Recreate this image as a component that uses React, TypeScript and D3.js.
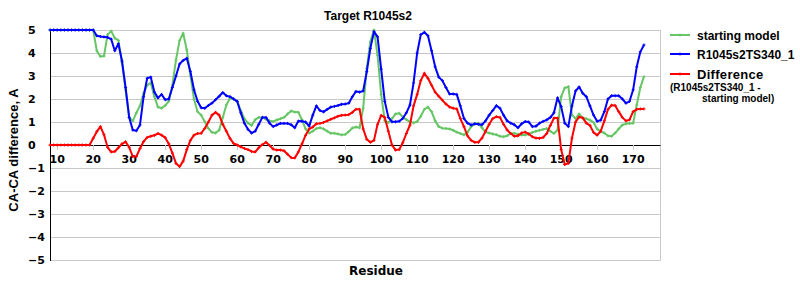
import React from "react";
import * as d3 from "d3";

const residueStart = 8;
const startingModel = [
  5, 5, 5, 5, 5, 5, 5, 5, 5, 5, 5, 5, 5,
  4.1, 3.85, 3.87, 4.8, 4.95, 4.65, 4.55, 3.6, 2.4, 1.2,
  1.05, 1.4, 1.7, 2.25, 2.6, 2.7, 2.1, 1.65, 1.6, 1.72,
  1.9, 2.6, 3.7, 4.55, 4.86, 4.13, 3.04, 2.0, 1.45, 1.3,
  1.01, 0.72, 0.55, 0.52, 0.65, 1.2, 1.75, 2.02, 2.02, 1.9,
  1.5, 1.15, 0.95, 0.85, 1.1, 1.2, 1.2, 1.12, 1.05, 1.02,
  1.09, 1.14, 1.2, 1.35, 1.48, 1.43, 1.42, 1.1, 0.7, 0.52,
  0.6, 0.72, 0.75, 0.7, 0.6, 0.51, 0.51, 0.48, 0.44, 0.46,
  0.58, 0.74, 0.78, 0.75, 1.6, 3.33, 4.5, 5.0, 3.9, 2.2,
  1.05, 0.97, 1.15, 1.35, 1.38, 1.22, 1.1, 1.01, 0.96, 1.02,
  1.25, 1.55, 1.65, 1.45, 1.05, 0.8, 0.73, 0.72, 0.7, 0.64,
  0.56, 0.5, 0.44, 0.55, 0.8, 0.92, 0.94, 0.75, 0.56, 0.52,
  0.48, 0.45, 0.38, 0.36, 0.4, 0.5, 0.51, 0.47, 0.43, 0.43,
  0.48, 0.55, 0.6, 0.64, 0.68, 0.72, 0.6, 0.5, 0.65, 2.1,
  2.48, 2.54, 1.3, 1.15, 1.35, 1.18, 1.14, 1.08, 0.98, 0.7,
  0.58, 0.52, 0.4, 0.38, 0.52, 0.7, 0.87, 0.92, 0.94, 0.95,
  1.74, 2.5, 2.97,
];
const model340 = [
  5, 5, 5, 5, 5, 5, 5, 5, 5, 5, 5, 5, 5,
  4.75, 4.72, 4.7, 4.68, 4.6, 4.1, 4.4, 3.65, 2.5, 1.2,
  0.65, 0.62, 0.87, 2.1, 2.9, 2.95, 2.3, 2.05, 2.2, 1.97,
  2.0, 2.5, 3.0, 3.52, 3.68, 3.77, 3.2, 2.4, 1.9, 1.62,
  1.6, 1.72, 1.82, 1.97, 2.12, 2.28, 2.14, 2.1, 2.0, 1.9,
  1.4, 0.95, 0.68, 0.52, 0.6, 0.9, 1.2, 1.2, 0.95, 0.8,
  0.87, 0.94, 0.94, 0.94, 0.88, 0.75, 1.04, 1.03, 1.0, 0.82,
  1.3, 1.7, 1.5, 1.44, 1.55, 1.65, 1.68, 1.72, 1.77, 1.78,
  1.82, 2.1, 2.33, 2.3, 2.35, 3.19, 4.2, 4.93, 4.7, 3.3,
  1.9, 1.2, 1.01, 1.01, 1.03, 1.15, 1.4, 1.74, 2.7, 4.0,
  4.8, 4.9, 4.75, 4.1, 3.4, 2.95, 2.8, 2.5, 2.22, 2.22,
  2.2, 1.7, 1.15, 0.95, 0.87, 0.92, 0.9, 0.88, 1.05, 1.3,
  1.5, 1.71, 1.6, 1.3, 1.05, 0.95, 0.88, 0.75, 0.92, 1.02,
  1.0, 0.8, 0.82, 0.95, 1.03, 1.09, 1.2, 1.4, 2.05, 1.67,
  0.95, 0.8, 1.7, 2.35, 2.52, 2.25, 2.1, 1.7, 1.3, 1.03,
  1.08, 1.45, 2.0, 2.14, 2.14, 2.14, 2.0, 1.82, 1.9, 2.4,
  3.4, 4.05, 4.35,
];
const difference = [
  0, 0, 0, 0, 0, 0, 0, 0, 0, 0, 0, 0,
  0.29, 0.58, 0.8, 0.45, -0.1, -0.3, -0.28, -0.12, 0.05, 0.14, -0.1,
  -0.5, -0.5, -0.15, 0.15, 0.33, 0.38, 0.42, 0.5, 0.43, 0.32,
  0.05, -0.35, -0.8, -0.94, -0.7, -0.2, 0.2, 0.43, 0.5, 0.51,
  0.72, 1.0, 1.3, 1.42, 1.3, 0.9, 0.6, 0.29, 0.07, 0.0,
  -0.08, -0.15, -0.2, -0.28, -0.3, -0.12, 0.02, 0.12, -0.02, -0.18,
  -0.22, -0.22, -0.25, -0.4, -0.55, -0.56, -0.3, 0.05, 0.42, 0.7,
  0.78, 0.92, 0.94, 0.98, 1.05, 1.12, 1.18, 1.25, 1.29, 1.3,
  1.32, 1.42, 1.55, 1.55, 0.7, 0.25, 0.12, 0.2, 0.9, 1.29,
  1.2, 0.6, 0.0, -0.22, -0.2, 0.1, 0.5, 0.87, 1.7, 2.2,
  2.8, 3.12, 2.9, 2.6, 2.3, 2.12, 1.95, 1.78, 1.65, 1.6,
  1.57, 1.15, 0.8, 0.4, 0.2, 0.12, 0.12, 0.3, 0.6, 0.9,
  1.15, 1.23, 1.2, 0.9, 0.65, 0.5, 0.38, 0.4, 0.52, 0.56,
  0.48, 0.36, 0.3, 0.29, 0.33, 0.5, 0.85, 1.17, 1.17, -0.2,
  -0.85, -0.8, 0.3, 1.0, 1.22, 1.18, 0.95, 0.85, 0.55, 0.43,
  0.6, 1.05, 1.55, 1.73, 1.72, 1.45, 1.2, 1.05, 1.1, 1.45,
  1.55, 1.57, 1.57,
];
const xTicks = [10, 20, 30, 40, 50, 60, 70, 80, 90, 100, 110, 120, 130, 140, 150, 160, 170];
const yTicks = [-5, -4, -3, -2, -1, 0, 1, 2, 3, 4, 5];
const seriesNames = ["starting model", "R1045s2TS340_1", "Difference"];
const seriesColors = ["#66c666", "#0000ff", "#ff0000"];

const W = 800;
const H = 300;
const x = d3.scaleLinear().domain([8, 177.6]).range([50, 660.5]);
const y = d3.scaleLinear().domain([-5, 5]).range([260, 30]);
const sans = "'Liberation Sans', Arial, sans-serif";
const dv = "'DejaVu Sans', Verdana, sans-serif";

function toPts(vals: number[]) {
  return vals.map((v, i) => [residueStart + i, v] as [number, number]);
}

export default function App() {
  const line = d3
    .line<[number, number]>()
    .x((d) => x(d[0]))
    .y((d) => y(d[1]));
  const all = [startingModel, model340, difference];
  const x0 = x.range()[0];
  const x1 = x.range()[1];
  return (
    <svg
      width={W}
      height={H}
      style={{ position: "absolute", left: 0, top: 0, background: "#fff" }}
    >
      <rect x={0} y={0} width={W} height={H} fill="#fff" />
      {yTicks
        .filter((t) => t !== 0)
        .map((t) => (
          <line
            key={"g" + t}
            x1={x0}
            x2={x1}
            y1={Math.round(y(t)) + 0.5}
            y2={Math.round(y(t)) + 0.5}
            stroke="#c8c8c8"
            strokeWidth={1}
          />
        ))}
      <line x1={x1} x2={x1} y1={y(5)} y2={y(-5) + 0.5} stroke="#c8c8c8" strokeWidth={1} />
      <line x1={x0 + 0.5} x2={x0 + 0.5} y1={y(5)} y2={y(-5) + 1} stroke="#000" strokeWidth={1} />
      <line x1={x0} x2={x1} y1={Math.round(y(0)) + 0.5} y2={Math.round(y(0)) + 0.5} stroke="#000" strokeWidth={1} />
      {xTicks.map((t) => (
        <g key={"xt" + t}>
          <line
            x1={Math.round(x(t)) + 0.5}
            x2={Math.round(x(t)) + 0.5}
            y1={y(0)}
            y2={y(0) + 5}
            stroke="#c8c8c8"
          />
          <text
            x={x(t)}
            y={163}
            textAnchor="middle"
            fontFamily={dv}
            fontWeight="bold"
            fontSize={11}
            fill="#000"
          >
            {t}
          </text>
        </g>
      ))}
      {yTicks.map((t) => (
        <text
          key={"yt" + t}
          x={28}
          y={y(t) + 4}
          textAnchor="start"
          fontFamily={dv}
          fontWeight="bold"
          fontSize={11}
          fill="#000"
        >
          {t < 0 ? "\u2212" + Math.abs(t) : t}
        </text>
      ))}
      {all.map((vals, si) => {
        const pts = toPts(vals);
        return (
          <g key={"s" + si}>
            <path d={line(pts) || ""} fill="none" stroke={seriesColors[si]} strokeWidth={2} strokeLinejoin="round" />
            {pts.map((p, i) => (
              <path
                key={i}
                d={`M${x(p[0]) - 1.5},${y(p[1])}h3M${x(p[0])},${y(p[1]) - 1.5}v3`}
                stroke={seriesColors[si]}
                strokeWidth={1}
              />
            ))}
          </g>
        );
      })}
      <text x={368} y={20} textAnchor="middle" fontFamily={sans} fontWeight="bold" fontSize={12} fill="#000">
        Target R1045s2
      </text>
      <text
        transform={`translate(18,150) rotate(-90)`}
        textAnchor="middle"
        fontFamily={sans}
        fontWeight="bold"
        fontSize={13}
        fill="#000"
      >
        CA-CA difference, A
      </text>
      <text x={376} y={275} textAnchor="middle" fontFamily={dv} fontWeight="bold" fontSize={12} fill="#000">
        Residue
      </text>
      {seriesNames.map((n, i) => {
        const ly = [35, 54, 74][i];
        return (
          <g key={"lg" + i}>
            <line x1={670} x2={690} y1={ly} y2={ly} stroke={seriesColors[i]} strokeWidth={2} />
            <path d={`M680,${ly - 1.5}v3`} stroke={seriesColors[i]} strokeWidth={1} />
            <text
              x={697}
              y={ly + 4.5}
              fontFamily={sans}
              fontWeight="bold"
              fontSize={i === 2 ? 13 : 12}
              letterSpacing={i === 2 ? 0.3 : 0}
              fill="#000"
            >
              {n}
            </text>
          </g>
        );
      })}
      <text x={670} y={90.5} fontFamily={sans} fontWeight="bold" fontSize={10} fill="#000">
        (R1045s2TS340_1 -
      </text>
      <text x={702} y={101.5} fontFamily={sans} fontWeight="bold" fontSize={10} fill="#000">
        starting model)
      </text>
    </svg>
  );
}
